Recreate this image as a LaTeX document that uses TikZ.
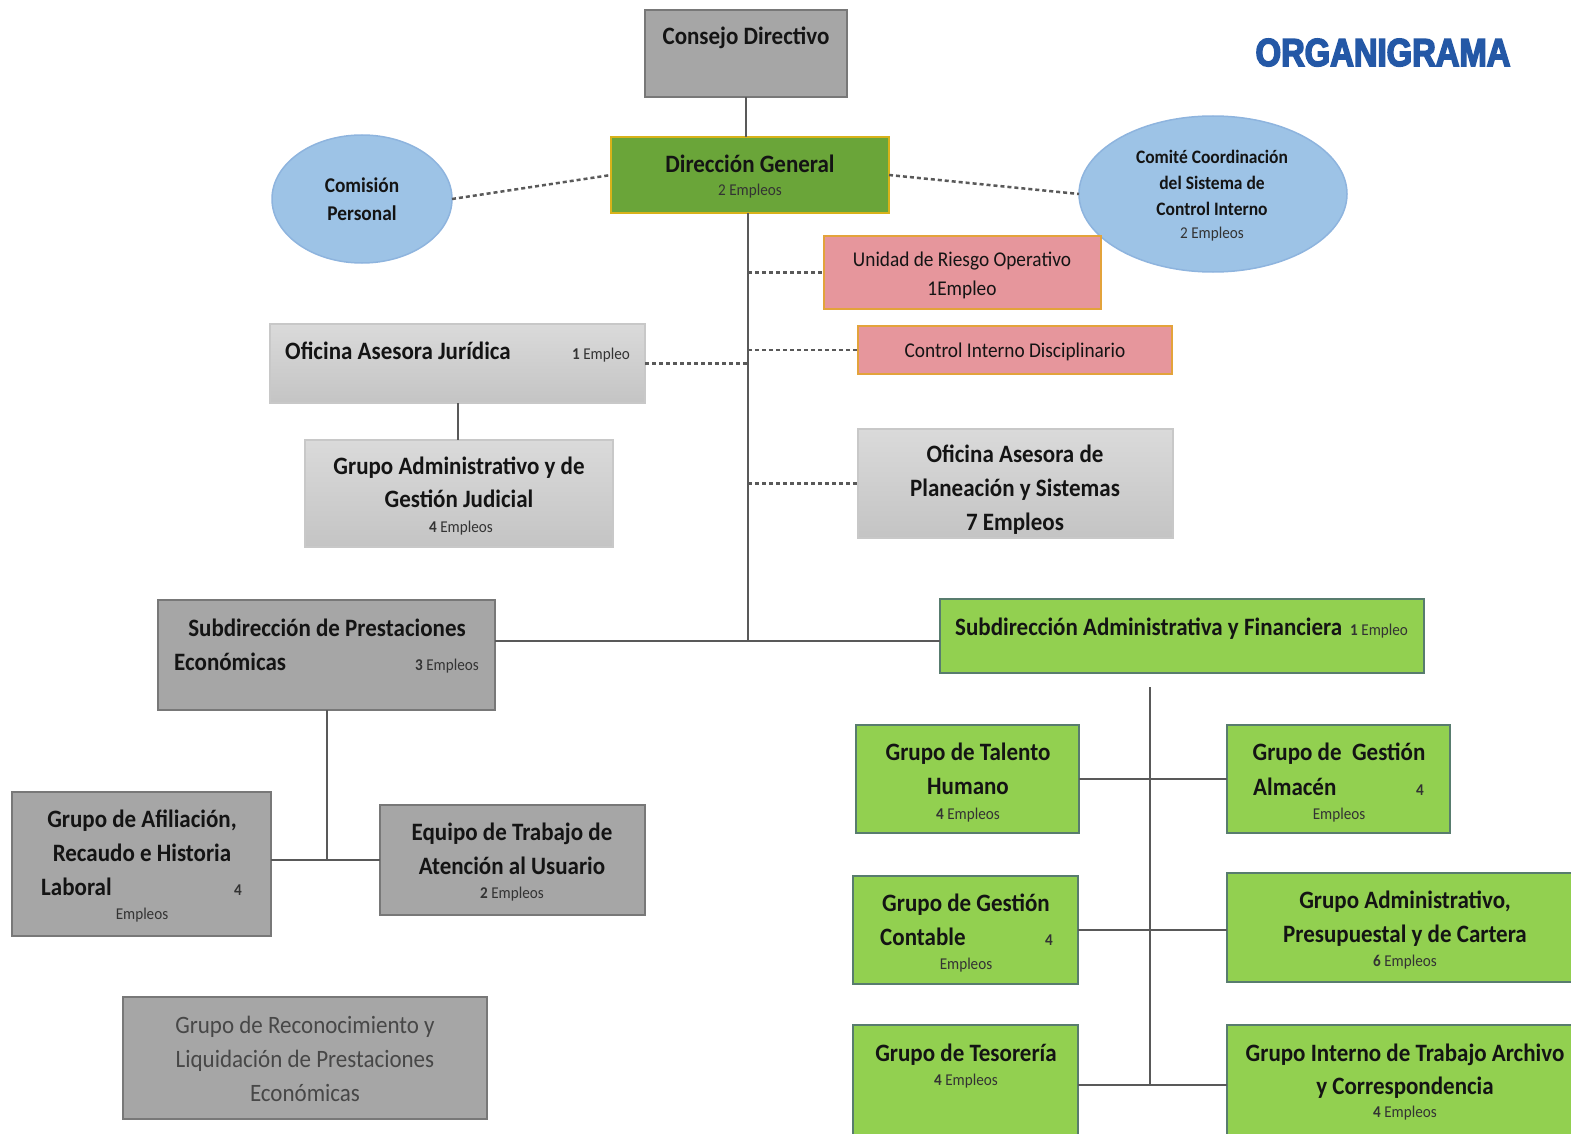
\documentclass[tikz,border=0pt]{standalone}
\usepackage{fontspec}
\setmainfont{Carlito}[FakeStretch=0.92]
\newfontfamily\orgf{Liberation Sans}[FakeStretch=0.84, FakeBold=4, BoldFeatures={FakeBold=4}]
\usetikzlibrary{fit,shapes.geometric}
\definecolor{cgray}{HTML}{A6A6A6}
\definecolor{cgrayd}{HTML}{787878}
\definecolor{lgtop}{HTML}{DADADA}
\definecolor{lgbot}{HTML}{C4C4C4}
\definecolor{lgline}{HTML}{C8C8C8}
\definecolor{dgfill}{HTML}{6AA539}
\definecolor{dgline}{HTML}{D8B21A}
\definecolor{ellfill}{HTML}{9DC3E6}
\definecolor{ellline}{HTML}{8EB4DE}
\definecolor{pinkf}{HTML}{E6969C}
\definecolor{pinkline}{HTML}{E3A33B}
\definecolor{gfill}{HTML}{92D050}
\definecolor{gline}{HTML}{587C6E}
\definecolor{conn}{HTML}{595959}
\definecolor{orgblue}{HTML}{2458A6}
\definecolor{txtc}{HTML}{141414}
\definecolor{smc}{HTML}{333333}
\tikzset{
  box/.style={inner sep=0pt, outer sep=0pt, line width=2pt},
  graybox/.style={box, fill=cgray, draw=cgrayd},
  lightbox/.style={box, top color=lgtop, bottom color=lgbot, draw=lgline},
  greenbox/.style={box, fill=gfill, draw=gline},
  dgbox/.style={box, fill=dgfill, draw=dgline},
  pinkbox/.style={box, fill=pinkf, draw=pinkline},
  ell/.style={ellipse, fill=ellfill, draw=ellline, line width=1.5pt, inner sep=0pt, outer sep=0pt},
  ln/.style={draw=conn, line width=2pt},
  dsh/.style={draw=conn, line width=2.5pt, dash pattern=on 4pt off 3pt},
  txt/.style={anchor=base, inner sep=0pt, text=txtc},
  big/.style={txt, font=\fontsize{25}{30}\selectfont\bfseries},
  med/.style={txt, font=\fontsize{21}{25}\selectfont\bfseries},
  cmt/.style={txt, font=\fontsize{19}{23}\selectfont\bfseries},
  pnk/.style={txt, font=\fontsize{21}{25}\selectfont},
  sm/.style={txt, font=\fontsize{16.5}{19}\selectfont, text=smc},
  reg/.style={txt, font=\fontsize{25}{30}\selectfont, text=black!72},
}
\newcommand\tx[5][]{\node[#4,#1] (#2) at (#3) {#5};}
\begin{document}
\begin{tikzpicture}[x=1pt,y=-1pt]
\useasboundingbox (0,0) rectangle (1571,1134);
\clip (0,0) rectangle (1571,1134);

% title
\node[anchor=base, inner sep=0pt, text=orgblue, font=\orgf\bfseries\fontsize{39}{44}\selectfont] (title) at (1383,66) {ORGANIGRAMA};

% boxes
\node[graybox, fit={(645,10) (847,97)}] (cd) {};
\node[dgbox, fit={(611,137) (889,213)}] (dg) {};
\node[ell, minimum width=180pt, minimum height=128pt] (cp) at (362,199) {};
\node[ell, minimum width=268pt, minimum height=156pt] (cm) at (1213,194) {};
\node[pinkbox, fit={(824,236) (1101,309)}] (uro) {};
\node[pinkbox, fit={(858,326) (1172,374)}] (cid) {};
\node[lightbox, fit={(270,324) (645,403)}] (oaj) {};
\node[lightbox, fit={(305,440) (613,547)}] (gagj) {};
\node[lightbox, fit={(858,429) (1173,538)}] (oaps) {};
\node[graybox, fit={(158,600) (495,710)}] (spe) {};
\node[greenbox, fit={(940,599) (1424,673)}] (saf) {};
\node[greenbox, fit={(856,725) (1079,833)}] (gth) {};
\node[greenbox, fit={(1227,725) (1450,833)}] (gga) {};
\node[greenbox, fit={(853,876) (1078,984)}] (ggc) {};
\node[greenbox, fit={(1227,873) (1580,982)}] (gap) {};
\node[greenbox, fit={(853,1025) (1078,1145)}] (gts) {};
\node[greenbox, fit={(1227,1025) (1580,1145)}] (gac) {};
\node[graybox, fit={(12,792) (271,936)}] (gaf) {};
\node[graybox, fit={(380,805) (645,915)}] (eta) {};
\node[graybox, fit={(123,997) (487,1119)}] (grl) {};

% connectors
\coordinate (hub) at (748,641);
\coordinate (saftop) at (1150,687);
\draw[ln] (cd.south) -- (cd.south |- dg.north);
\draw[ln] (dg.south -| hub) -- (hub);
\draw[ln] (spe.east |- hub) -- (saf.west |- hub);
\draw[dsh] (cp.east) -- (dg.west);
\draw[dsh] (dg.east) -- (cm.west);
\draw[dsh] (hub |- uro.west) -- (uro.west);
\draw[dsh] (hub |- cid.west) -- (cid.west);
\draw[dsh] (oaj.east) -- (hub |- oaj.east);
\draw[dsh] (hub |- oaps.west) -- (oaps.west);
\draw[ln] (oaj.south) -- (oaj.south |- gagj.north);
\draw[ln] (spe.south) -- (spe.south |- eta.west);
\draw[ln] (gaf.east |- eta.west) -- (eta.west);
\draw[ln] (saftop) -- (saftop |- gts.east);
\draw[ln] (gth.east) -- (gth.east -| gga.west);
\draw[ln] (ggc.east) -- (ggc.east -| gap.west);
\draw[ln] (gts.east) -- (gts.east -| gac.west);

% texts
\tx{tcd}{746,45}{big}{Consejo Directivo}
\tx{tdg1}{750,173}{big}{Dirección General}
\tx{tdg2}{750,196}{sm}{2 Empleos}
\tx{tcp1}{362,193}{med}{Comisión}
\tx{tcp2}{362,221}{med}{Personal}
\tx{tcm1}{1212,164}{cmt}{Comité Coordinación}
\tx{tcm2}{1212,190}{cmt}{del Sistema de}
\tx{tcm3}{1212,215}{cmt}{Control Interno}
\tx{tcm4}{1212,238}{sm}{2 Empleos}
\tx{turo1}{962,266}{pnk}{Unidad de Riesgo Operativo}
\tx{turo2}{962,295}{pnk}{1Empleo}
\tx{tcid}{1015,357}{pnk}{Control Interno Disciplinario}
\tx[anchor=base west]{toaj1}{285,359}{big}{Oficina Asesora Jurídica}
\tx[anchor=base west]{toaj2}{572,359}{sm}{{\bfseries 1} Empleo}
\tx{tgagj1}{459,474}{big}{Grupo Administrativo y de}
\tx{tgagj2}{459,507}{big}{Gestión Judicial}
\tx{tgagj3}{461,532}{sm}{{\bfseries 4} Empleos}
\tx{toaps1}{1015,462}{big}{Oficina Asesora de}
\tx{toaps2}{1015,496}{big}{Planeación y Sistemas}
\tx{toaps3}{1015,530}{big}{7 Empleos}
\tx{tspe1}{327,636}{big}{Subdirección de Prestaciones}
\tx[anchor=base west]{tspe2}{174,670}{big}{Económicas}
\tx[anchor=base east]{tspe3}{479,670}{sm}{{\bfseries 3} Empleos}
\tx[anchor=base west]{tsaf1}{955,635}{big}{Subdirección Administrativa y Financiera}
\tx[anchor=base west]{tsaf2}{1350,635}{sm}{{\bfseries 1} Empleo}
\tx{tgth1}{968,760}{big}{Grupo de Talento}
\tx{tgth2}{968,794}{big}{Humano}
\tx{tgth3}{968,819}{sm}{{\bfseries 4} Empleos}
\tx{tgga1}{1339,760}{big}{Grupo de~ Gestión}
\tx[anchor=base west]{tgga2}{1253,795}{big}{Almacén}
\tx{tgga3}{1420,795}{sm}{\bfseries 4}
\tx{tgga4}{1339,819}{sm}{Empleos}
\tx{tggc1}{966,911}{big}{Grupo de Gestión}
\tx[anchor=base west]{tggc2}{880,945}{big}{Contable}
\tx{tggc3}{1049,945}{sm}{\bfseries 4}
\tx{tggc4}{966,969}{sm}{Empleos}
\tx{tgap1}{1405,908}{big}{Grupo Administrativo,}
\tx{tgap2}{1405,942}{big}{Presupuestal y de Cartera}
\tx{tgap3}{1405,966}{sm}{{\bfseries 6} Empleos}
\tx{tgts1}{966,1061}{big}{Grupo de Tesorería}
\tx{tgts2}{966,1085}{sm}{{\bfseries 4} Empleos}
\tx{tgac1}{1405,1061}{big}{Grupo Interno de Trabajo Archivo}
\tx{tgac2}{1405,1094}{big}{y Correspondencia}
\tx{tgac3}{1405,1117}{sm}{{\bfseries 4} Empleos}
\tx{tgaf1}{142,827}{big}{Grupo de Afiliación,}
\tx{tgaf2}{142,861}{big}{Recaudo e Historia}
\tx[anchor=base west]{tgaf3}{41,895}{big}{Laboral}
\tx{tgaf4}{238,895}{sm}{\bfseries 4}
\tx{tgaf5}{142,919}{sm}{Empleos}
\tx{teta1}{512,840}{big}{Equipo de Trabajo de}
\tx{teta2}{512,874}{big}{Atención al Usuario}
\tx{teta3}{512,898}{sm}{{\bfseries 2} Empleos}
\tx{tgrl1}{305,1033}{reg}{Grupo de Reconocimiento y}
\tx{tgrl2}{305,1067}{reg}{Liquidación de Prestaciones}
\tx{tgrl3}{305,1101}{reg}{Económicas}
\end{tikzpicture}
\end{document}
